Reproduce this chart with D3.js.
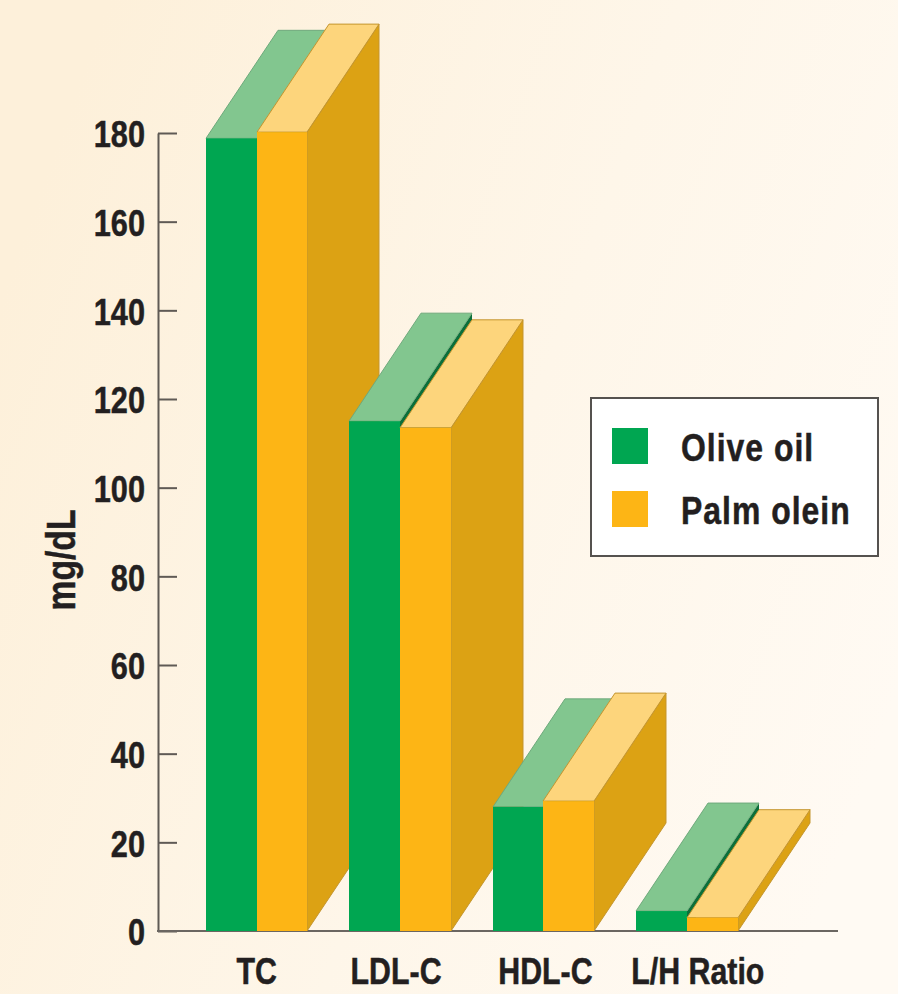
<!DOCTYPE html>
<html>
<head>
<meta charset="utf-8">
<script src="https://cdn.jsdelivr.net/npm/d3@7"></script>
<style>
  html, body { margin: 0; padding: 0; background: #fdf3e1; }
  svg { display: block; }
  text { font-family: "Liberation Sans", sans-serif; font-weight: 700; fill: #231f20; stroke: #231f20; stroke-width: 0.5px; }
</style>
</head>
<body>
<svg id="chart" width="898" height="994"></svg>
<script>
// Lipid measures and the two dietary oils compared
const categories = ["TC", "LDL-C", "HDL-C", "L/H Ratio"];
const seriesNames = ["Olive oil", "Palm olein"];
const oliveOil = [178.8, 115, 28, 4.5];
const palmOlein = [180.2, 113.5, 29.3, 3];
const yTicks = [0, 20, 40, 60, 80, 100, 120, 140, 160, 180];
const yTitle = "mg/dL";

const palette = {
  "Olive oil": { front: "#00a651", top: "#82c68f", side: "#0b6f3a", edge: "#6fa97c", sideEdge: "none" },
  "Palm olein": { front: "#fdb515", top: "#fdd57c", side: "#dca214", edge: "#c4952f", sideEdge: "#c4952f" }
};

const W = 898, H = 994;
const svg = d3.select("#chart");

// Soft cream wash across the page
const defs = svg.append("defs");
const wash = defs.append("linearGradient").attr("id", "wash")
  .attr("x1", "0%").attr("y1", "30%").attr("x2", "100%").attr("y2", "70%");
wash.append("stop").attr("offset", "0%").attr("stop-color", "#fdf0da");
wash.append("stop").attr("offset", "55%").attr("stop-color", "#fef6e9");
wash.append("stop").attr("offset", "100%").attr("stop-color", "#fffaf3");
svg.append("rect").attr("width", W).attr("height", H).attr("fill", "url(#wash)");

// Scales
const y = d3.scaleLinear().domain([0, 180]).range([931, 133]);
const x = d3.scaleBand().domain(categories).range([205.9, 737.6]).paddingInner(0.292);
const xInner = d3.scaleBand().domain(seriesNames).range([0, x.bandwidth()]);

// Oblique projection of the extruded bars
const depthX = 72, depthY = -108;
const baseY = y(0);

// Horizontal squeeze that gives the bold face its condensed look
const narrowTick = 0.83, narrowCategory = 0.82, narrowLegend = 0.84, narrowTitle = 0.82;

const rows = categories.map((c, i) => ({
  category: c,
  values: [
    { series: "Olive oil", value: oliveOil[i] },
    { series: "Palm olein", value: palmOlein[i] }
  ]
}));

const poly = pts => pts.map(p => p.join(",")).join(" ");

// Y axis: ticks run inward, labels sit outside
const axisY = svg.append("g").attr("class", "y-axis")
  .attr("transform", "translate(158,0)")
  .call(d3.axisLeft(y).tickValues(yTicks).tickSize(-19).tickSizeOuter(0).tickPadding(13));
axisY.select(".domain").attr("stroke", "#5f5a55").attr("stroke-width", 2);
axisY.selectAll(".tick line").attr("stroke", "#5f5a55").attr("stroke-width", 2);
axisY.selectAll(".tick text")
  .style("font-size", "37px")
  .attr("x", 0)
  .attr("dy", "0.35em")
  .attr("transform", `translate(-13,1) scale(${narrowTick},1)`);

// Baseline
svg.append("line").attr("class", "baseline")
  .attr("x1", 157).attr("x2", 838).attr("y1", baseY).attr("y2", baseY)
  .attr("stroke", "#6b6661").attr("stroke-width", 2);

// Bars, painted back to front from left to right
const groups = svg.append("g").selectAll("g").data(rows).join("g");
const boxes = groups.selectAll("g").data(d => d.values.map(v => ({ ...v, category: d.category }))).join("g");

boxes.each(function (d) {
  const g = d3.select(this);
  const colors = palette[d.series];
  const x0 = Math.round(x(d.category) + xInner(d.series));
  const x1 = Math.round(x(d.category) + xInner(d.series) + xInner.bandwidth());
  const yT = y(d.value);
  g.append("polygon").attr("class", "side")
    .attr("points", poly([[x1, yT], [x1 + depthX, yT + depthY], [x1 + depthX, baseY + depthY], [x1, baseY]]))
    .attr("fill", colors.side).attr("stroke", colors.sideEdge).attr("stroke-width", 1);
  g.append("polygon").attr("class", "top")
    .attr("points", poly([[x0, yT], [x0 + depthX, yT + depthY], [x1 + depthX, yT + depthY], [x1, yT]]))
    .attr("fill", colors.top).attr("stroke", colors.edge).attr("stroke-width", 1);
  g.append("rect").attr("class", "front")
    .attr("x", x0).attr("y", yT).attr("width", x1 - x0).attr("height", baseY - yT)
    .attr("fill", colors.front);
});

// Category labels
const labelNudge = [0, -4, 2, 11];
const axisX = svg.append("g").attr("class", "x-axis")
  .attr("transform", `translate(0,${baseY})`)
  .call(d3.axisBottom(x).tickSize(0).tickPadding(27));
axisX.select(".domain").remove();
axisX.selectAll(".tick text")
  .style("font-size", "37px")
  .attr("transform", (d, i) => `translate(${labelNudge[i]},0) scale(${narrowCategory},1)`);

// Y axis title
svg.append("text")
  .attr("transform", `translate(75,560) rotate(-90) scale(${narrowTitle},1)`)
  .attr("text-anchor", "middle")
  .style("font-size", "41px")
  .text(yTitle);

// Legend
const legend = svg.append("g").attr("class", "legend").attr("transform", "translate(591,398)");
legend.append("rect").attr("width", 287).attr("height", 158)
  .attr("fill", "#ffffff").attr("stroke", "#55524f").attr("stroke-width", 2);
const legendStep = 63;
const entries = legend.selectAll("g").data(seriesNames).join("g")
  .attr("transform", (d, i) => `translate(21,${30 + i * legendStep})`);
entries.append("rect").attr("width", 36).attr("height", 36)
  .attr("fill", d => palette[d].front);
entries.append("text")
  .attr("transform", `translate(69,33) scale(${narrowLegend},1)`)
  .style("font-size", "38px")
  .style("letter-spacing", "1.2px")
  .text(d => d);
</script>
</body>
</html>
